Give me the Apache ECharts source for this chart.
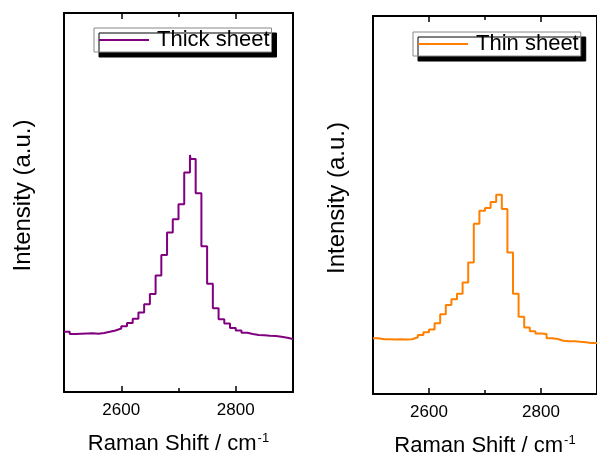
<!DOCTYPE html>
<html>
<head>
<meta charset="utf-8">
<script src="https://cdn.jsdelivr.net/npm/echarts@6/dist/echarts.min.js"></script>
<style>
html,body{margin:0;padding:0;background:#fff;}
#chart{width:597px;height:463px;}
</style>
</head>
<body>
<div id="chart"></div>
<script>
// Raman shift positions (cm^-1), start of each step
const shift = [2500,2510,2520,2530,2540,2550,2560,2570,2580,2590,
  2600,2610,2620,2630,2640,2650,2660,2670,2680,2690,
  2700,2710,2720,2730,2740,2750,2760,2770,2780,2790,
  2800,2810,2820,2830,2840,2850,2860,2870,2880,2890,2900];
const thickShift = [2500,2510,2520,2530,2540,2550,2560,2570,2580,2590,
  2600,2610,2620,2630,2640,2650,2660,2670,2680,2690,
  2700,2710,2720,2721,2730,2740,2750,2760,2770,2780,2790,
  2800,2810,2820,2830,2840,2850,2860,2870,2880,2890,2900];
const thickSheet = [60.3,58,58.3,58.5,58.7,58.2,59,60.2,61.5,63.5,
  65.7,69,73.2,79.5,87.7,98,116.5,137,159.5,172.7,
  187.7,219.5,237,233,198.7,145.7,108.3,83.7,72.7,68.5,64,
  61.5,59.3,58,57,56.8,56.3,56,55.3,54.3,53,53];
const thinSheet = [55.7,54.7,54.7,54.5,54.7,54.5,54.7,56.7,59,61.7,
  64.5,70.7,79.8,89,94.7,100.3,111.5,131.5,170.2,183.2,
  186,192,199.3,185,141.5,100.2,77.3,66.5,62.7,60.5,
  60,55.7,55,53.3,52.7,52.8,52.2,51.7,51,51,51];
const xMin = 2500, xMax = 2900;
const majorTicks = [2600, 2800];
const minorTicks = [2700];
const seriesNames = ['Thick sheet', 'Thin sheet'];
const colors = ['#800080', '#ff8000'];
const yMaxLeft = 379, yMaxRight = 378;
const xName = 'Raman Shift / cm{sup|-1}';
const yName = 'Intensity (a.u.)';

const FONT = "'Liberation Sans', Arial, sans-serif";
const chart = echarts.init(document.getElementById('chart'), null, {renderer: 'canvas'});

function xAxes(gridIndex, nameGap) {
  const base = {type: 'value', gridIndex: gridIndex, min: xMin, max: xMax, splitLine: {show: false}};
  return [
    Object.assign({}, base, {
      position: 'bottom',
      axisLine: {show: true, lineStyle: {color: '#000', width: 2}},
      axisTick: {show: true, inside: true, length: 6, customValues: majorTicks, lineStyle: {color: '#000', width: 1.5}},
      axisLabel: {show: true, customValues: majorTicks, margin: 10, color: '#000', fontSize: 17, fontFamily: FONT,
        formatter: function (v) { return String(v); }},
      name: xName, nameLocation: 'middle', nameGap: nameGap,
      nameTextStyle: {color: '#000', fontSize: 22, fontFamily: FONT,
        rich: {sup: {fontSize: 13, fontFamily: FONT, color: '#000', verticalAlign: 'top', padding: [0, 0, 10, 1]}}}
    }),
    Object.assign({}, base, {
      position: 'bottom',
      axisLine: {show: false},
      axisTick: {show: true, inside: true, length: 4, customValues: minorTicks, lineStyle: {color: '#000', width: 1.5}},
      axisLabel: {show: false}
    }),
    Object.assign({}, base, {
      position: 'top',
      axisLine: {show: true, lineStyle: {color: '#000', width: 2}},
      axisTick: {show: true, inside: true, length: 6, customValues: majorTicks, lineStyle: {color: '#000', width: 1.5}},
      axisLabel: {show: false}
    }),
    Object.assign({}, base, {
      position: 'top',
      axisLine: {show: false},
      axisTick: {show: true, inside: true, length: 4, customValues: minorTicks, lineStyle: {color: '#000', width: 1.5}},
      axisLabel: {show: false}
    })
  ];
}
function yAxes(gridIndex, yMax, nameGap) {
  const base = {type: 'value', gridIndex: gridIndex, min: 0, max: yMax, splitLine: {show: false},
    axisTick: {show: false}, axisLabel: {show: false},
    axisLine: {show: true, lineStyle: {color: '#000', width: 2}}};
  return [
    Object.assign({}, base, {position: 'left', name: yName, nameLocation: 'middle', nameGap: nameGap,
      nameTextStyle: {color: '#000', fontSize: 24, fontFamily: FONT, padding: [0, 0, 0, 14]}}),
    Object.assign({}, base, {position: 'right'})
  ];
}

const legendBase = {
  orient: 'horizontal', itemWidth: 50, itemHeight: 14, itemGap: 0,
  backgroundColor: '#fff', borderColor: '#888', borderWidth: 1, borderRadius: 0,
  shadowColor: '#000', shadowBlur: 0, shadowOffsetX: 5, shadowOffsetY: 5,
  padding: [1, 2, 1, 4],
  textStyle: {color: '#000', fontSize: 22, fontFamily: FONT, padding: [0, 0, 0, 3]},
  itemStyle: {opacity: 0}
};

chart.setOption({
  animation: false,
  backgroundColor: '#fff',
  grid: [
    {left: 64, top: 13, width: 229, height: 379},
    {left: 373, top: 16, width: 230, height: 378}
  ],
  xAxis: xAxes(0, 40).concat(xAxes(1, 40)),
  yAxis: yAxes(0, yMaxLeft, 29).concat(yAxes(1, yMaxRight, 24)),
  legend: [
    Object.assign({}, legendBase, {left: 94, top: 28, data: [seriesNames[0]]}),
    Object.assign({}, legendBase, {left: 413, top: 32, data: [seriesNames[1]]})
  ],
  series: [
    {name: seriesNames[0], type: 'line', step: 'end', xAxisIndex: 0, yAxisIndex: 0,
      symbol: 'none', color: colors[0], lineStyle: {color: colors[0], width: 2},
      data: thickShift.map((x, i) => [x, thickSheet[i]])},
    {name: seriesNames[1], type: 'line', step: 'end', xAxisIndex: 4, yAxisIndex: 2,
      symbol: 'none', color: colors[1], lineStyle: {color: colors[1], width: 2},
      data: shift.map((x, i) => [x, thinSheet[i]])}
  ]
});
</script>
</body>
</html>
